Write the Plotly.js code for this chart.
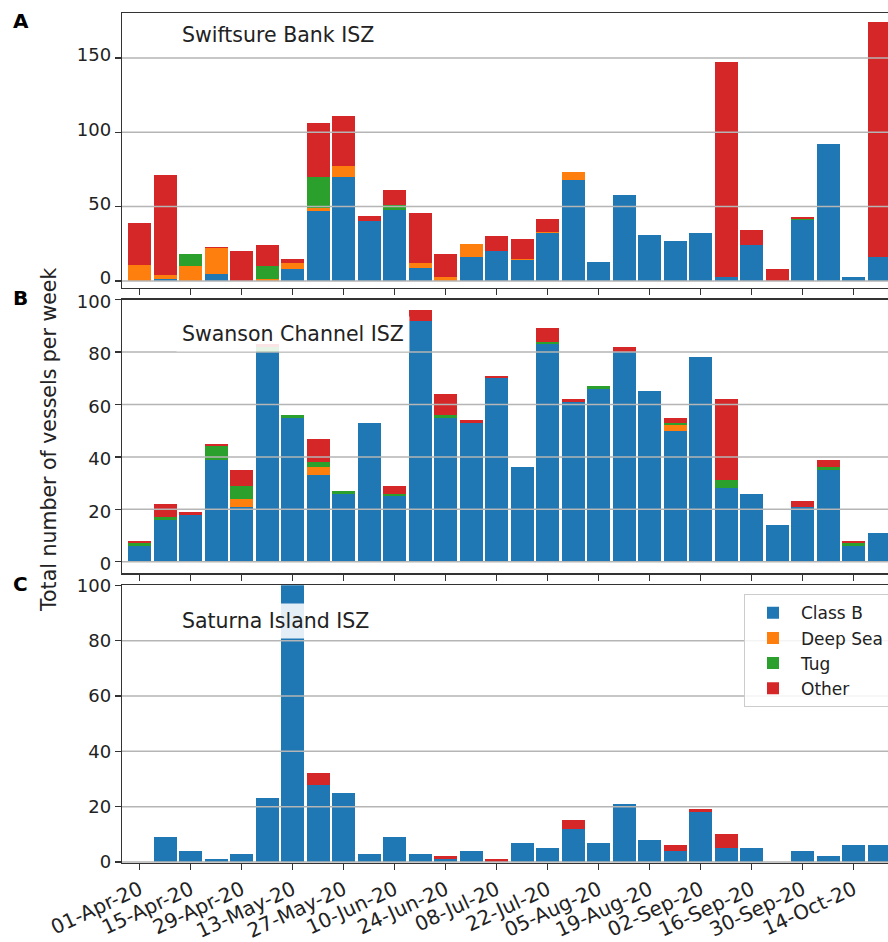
<!DOCTYPE html>
<html><head><meta charset="utf-8">
<script src="https://cdn.plot.ly/plotly-3.0.1.min.js"></script>
<style>html,body{margin:0;padding:0;overflow:hidden;background:#fff}#chart{width:897px;height:942px}</style>
</head><body><div id="chart"></div><script>
// ---- data ----
const weeks = ['2020-04-01','2020-04-08','2020-04-15','2020-04-22','2020-04-29','2020-05-06','2020-05-13','2020-05-20','2020-05-27','2020-06-03','2020-06-10','2020-06-17','2020-06-24','2020-07-01','2020-07-08','2020-07-15','2020-07-22','2020-07-29','2020-08-05','2020-08-12','2020-08-19','2020-08-26','2020-09-02','2020-09-09','2020-09-16','2020-09-23','2020-09-30','2020-10-07','2020-10-14','2020-10-21'];
const panelTitles = ['Swiftsure Bank ISZ','Swanson Channel ISZ','Saturna Island ISZ'];
const panelLetters = ['A','B','C'];
const seriesNames = ['Class B','Deep Sea','Tug','Other'];
const yTitle = 'Total number of vessels per week';

const swiftsureClassB = [0,1,0,5,0,0,8,47,70,40,48,9,0,16,20,14,32,68,13,58,31,27,32,3,24,0,41,92,3,16];
const swiftsureDeepSea = [11,3,10,17,0,1,4,2,7,0,0,3,3,9,0,1,1,5,0,0,0,0,0,0,0,0,0,0,0,0];
const swiftsureTug = [0,0,8,0,0,9,0,21,0,0,3,0,0,0,0,0,0,0,0,0,0,0,0,0,0,0,1,0,0,0];
const swiftsureOther = [28,67,0,1,20,14,3,36,34,4,10,34,15,0,10,13,9,0,0,0,0,0,0,144,10,8,1,0,0,158];

const swansonClassB = [6,16,18,39,21,80,55,33,26,53,25,92,55,53,70,36,83,61,66,80,65,50,78,28,26,14,21,35,6,11];
const swansonDeepSea = [0,0,0,0,3,0,0,3,0,0,0,0,0,0,0,0,0,0,0,0,0,2,0,0,0,0,0,0,0,0];
const swansonTug = [1,1,0,5,5,2,1,2,1,0,1,0,1,0,0,0,1,0,1,0,0,1,0,3,0,0,0,1,1,0];
const swansonOther = [1,5,1,1,6,1,0,9,0,0,3,4,8,1,1,0,5,1,0,2,0,2,0,31,0,0,2,3,1,0];

const saturnaClassB = [0,9,4,1,3,23,120,28,25,3,9,3,1,4,0,7,5,12,7,21,8,4,18,5,5,0,4,2,6,6];
const saturnaDeepSea = [0,0,0,0,0,0,0,0,0,0,0,0,0,0,0,0,0,0,0,0,0,0,0,0,0,0,0,0,0,0];
const saturnaTug = [0,0,0,0,0,0,0,0,0,0,0,0,0,0,0,0,0,0,0,0,0,0,0,0,0,0,0,0,0,0];
const saturnaOther = [0,0,0,0,0,0,0,4,0,0,0,0,1,0,1,0,0,3,0,0,0,2,1,5,0,0,0,0,0,0];

const yTicksA = [0,50,100,150];
const yTicksB = [0,20,40,60,80,100];
const yTicksC = [0,20,40,60,80,100];

// ---- build ----
const panelSeries = [
  [swiftsureClassB, swiftsureDeepSea, swiftsureTug, swiftsureOther],
  [swansonClassB, swansonDeepSea, swansonTug, swansonOther],
  [saturnaClassB, saturnaDeepSea, saturnaTug, saturnaOther]
];
const panelTicks = [yTicksA, yTicksB, yTicksC];
const colors = ['#1f77b4','#ff7f0e','#2ca02c','#d62728'];
const DAY = 86400000;
const FONT = 'DejaVu Sans, Arial, sans-serif';
const TXT = '#222222';

const data = [];
panelSeries.forEach((series, p) => {
  const xa = p === 0 ? 'x' : 'x' + (p + 1);
  const ya = p === 0 ? 'y' : 'y' + (p + 1);
  series.forEach((vals, s) => {
    data.push({
      type: 'bar', x: weeks, y: vals, name: seriesNames[s],
      xaxis: xa, yaxis: ya,
      width: 0.894 * 7 * DAY,
      marker: {color: colors[s], line: {width: 0}},
      showlegend: p === 2, legendgroup: seriesNames[s]
    });
  });
});

// geometry (pixels): plot top 12.7, bottom 862.7
const H = 942, TOP = 12.7, BOT = 862.7, PH = BOT - TOP;
const L = 122.3, W = 897, PW = W - L;
const fy = px => (BOT - px) / PH;
const fx = px => (px - L) / PW;

const domains = [[fy(287.5), 1], [fy(573), fy(299.3)], [0, fy(585)]];
const ranges = [[-4.6, 180.2], [-4.4, 100], [-0.36, 100]];
const labelShift = [-3, 2, 0];
const xRange = ['2020-03-27 03:24', '2020-10-25 20:36'];

const layout = {
  width: W, height: H,
  margin: {l: L, r: 0, t: TOP, b: H - BOT, pad: 0},
  paper_bgcolor: '#fff', plot_bgcolor: '#fff',
  barmode: 'stack', bargap: 0,
  font: {family: FONT, color: TXT, size: 18},
  showlegend: true,
  legend: {
    x: fx(889), xanchor: 'right', y: fy(594), yanchor: 'top',
    bgcolor: 'rgba(255,255,255,0.85)', bordercolor: '#cccccc', borderwidth: 1,
    font: {family: FONT, size: 17, color: TXT}, traceorder: 'normal', itemwidth: 46
  },
  shapes: [], annotations: []
};

for (let p = 0; p < 3; p++) {
  const xk = p === 0 ? 'xaxis' : 'xaxis' + (p + 1);
  const yk = p === 0 ? 'yaxis' : 'yaxis' + (p + 1);
  const ya = p === 0 ? 'y' : 'y' + (p + 1);
  const xa = p === 0 ? 'x' : 'x' + (p + 1);
  layout[xk] = {
    type: 'date', range: xRange, anchor: ya,
    tick0: weeks[0], dtick: 14 * DAY, tickformat: '%d-%b-%y',
    ticks: 'outside', ticklen: 6, tickwidth: 1.2, tickcolor: '#333',
    showline: true, linecolor: '#333', linewidth: 1.3, mirror: true,
    showgrid: false, zeroline: false,
    showticklabels: p === 2, tickangle: -25,
    tickfont: {family: FONT, size: 20, color: TXT}
  };
  layout[yk] = {
    domain: domains[p], range: ranges[p], anchor: xa,
    tickmode: 'array', tickvals: panelTicks[p],
    ticks: 'outside', ticklen: 6, tickwidth: 1.2, tickcolor: '#333',
    showline: true, linecolor: '#333', linewidth: 1.3, mirror: true,
    showgrid: false, zeroline: false, ticklabelshift: labelShift[p],
    tickfont: {family: FONT, size: 18, color: TXT}
  };
  panelTicks[p].forEach(v => {
    if (v >= ranges[p][1]) return;
    layout.shapes.push({
      type: 'line', xref: xa + ' domain', x0: 0, x1: 1, yref: ya, y0: v, y1: v,
      line: {color: '#b5b5b5', width: 1.5}, layer: 'above'
    });
  });
}

const titleY = [fy(35), fy(334), fy(621)];
const letterY = [fy(20.5), fy(298), fy(584)];
for (let p = 0; p < 3; p++) {
  layout.annotations.push({
    text: panelTitles[p], xref: 'paper', yref: 'paper',
    x: fx(176), xanchor: 'left', y: titleY[p], yanchor: 'middle',
    showarrow: false, bgcolor: 'rgba(255,255,255,0.88)', borderpad: 5,
    font: {family: FONT, size: 20.5, color: TXT}
  });
  layout.annotations.push({
    text: '<b>' + panelLetters[p] + '</b>', xref: 'paper', yref: 'paper',
    x: fx(21), xanchor: 'center', y: letterY[p], yanchor: 'middle',
    showarrow: false, font: {family: FONT, size: 20, color: '#000'}
  });
}
layout.annotations.push({
  text: yTitle, xref: 'paper', yref: 'paper', textangle: -90,
  x: fx(50), xanchor: 'center', y: fy(440), yanchor: 'middle',
  showarrow: false, font: {family: FONT, size: 20.5, color: TXT}
});

Plotly.newPlot('chart', data, layout, {displayModeBar: false, staticPlot: true});
</script></body></html>
